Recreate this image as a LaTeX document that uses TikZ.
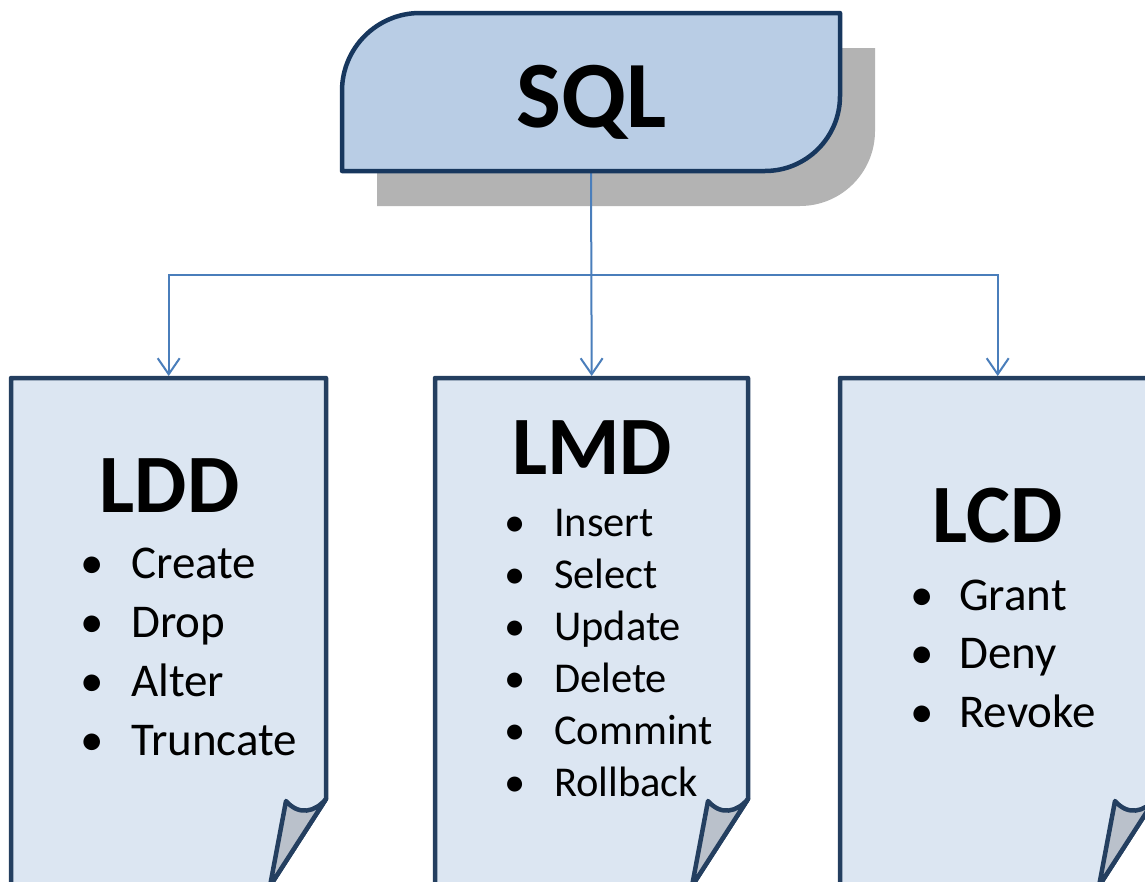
\documentclass[tikz,border=0pt]{standalone}
\usepackage{fontspec}
\setmainfont{Carlito}
\usetikzlibrary{arrows.meta}

\definecolor{boxline}{HTML}{17375E}
\definecolor{pageline}{HTML}{243F60}
\definecolor{boxfill}{HTML}{B9CDE5}
\definecolor{pagefill}{HTML}{DCE6F2}
\definecolor{foldfill}{HTML}{BAC1CB}
\definecolor{shadowgrey}{HTML}{B3B3B3}
\definecolor{linkblue}{HTML}{4A7EBB}

\newcommand\bul[1]{\makebox[#1][l]{\textbullet}}

\tikzset{
  outline/.style={draw=#1, line width=4.5pt, line join=round},
  conn/.style={draw=linkblue, line width=2pt, -{Straight Barb[length=16pt,width=22pt]}},
  anchorbox/.style={inner sep=0pt, minimum width=#1, minimum height=505pt, anchor=north west},
  heading/.style={anchor=base, inner sep=0pt, font=\fontsize{83pt}{83pt}\selectfont\bfseries},
  bigtitle/.style={anchor=base, inner sep=0pt, font=\fontsize{95pt}{95pt}\selectfont\bfseries},
  entry/.style={anchor=base west, inner sep=0pt, font=\fontsize{#1}{#1}\selectfont},
  docpage/.pic={
    \fill[pagefill] (0,530) -- (0,0) -- (#1,0) -- (#1,421) -- (#1-56,508) -- (#1-56,530) -- cycle;
    \draw[outline=pageline] (0,530) -- (0,0) -- (#1,0) -- (#1,421) -- (#1-56,508);
    \filldraw[fill=foldfill, outline=pageline] (#1,421) .. controls (#1-11,434) and (#1-27,438) .. (#1-40,423) -- (#1-56,508) -- cycle;
  }
}

\begin{document}
\begin{tikzpicture}[x=1pt,y=-1pt]
\useasboundingbox (0,0) rectangle (1145,881);
\clip (0,0) rectangle (1145,881);

% anchor nodes for the title box and the three pages
\node[inner sep=0pt, minimum width=498pt, minimum height=158pt] (sql) at (591,92) {};
\node[anchorbox=315pt] (ldd) at (11,376) {};
\node[anchorbox=313pt] (lmd) at (435,376) {};
\node[anchorbox=315pt] (lcd) at (840,376) {};
\coordinate (bus) at (591,275);

% drop shadow of the title box
\fill[shadowgrey, shift={(35,35)}] (342,171) -- (342,91) .. controls (342,47.9) and (376.9,13) .. (420,13)
  -- (840,13) -- (840,96) .. controls (840,137.4) and (806.4,171) .. (765,171) -- cycle;

% connectors
\draw[conn] (sql.south) -- (lmd.north);
\draw[conn] (bus) -| (ldd.north);
\draw[conn] (bus) -| (lcd.north);

% title box
\filldraw[fill=boxfill, outline=boxline] (342,171) -- (342,91) .. controls (342,47.9) and (376.9,13) .. (420,13)
  -- (840,13) -- (840,96) .. controls (840,137.4) and (806.4,171) .. (765,171) -- cycle;
\node[bigtitle] (sqltext) at (592,127) {SQL};

% pages
\pic at (11,378) {docpage=315};
\pic at (435,378) {docpage=313};
\pic at (840,378) {docpage=315};

% LDD
\node[heading] (lddtitle) at (169.5,512) {LDD};
\node[entry=47pt] (ldd1) at (80,578) {\bul{51pt}Create};
\node[entry=47pt] (ldd2) at (80,637) {\bul{51pt}Drop};
\node[entry=47pt] (ldd3) at (80,696) {\bul{51pt}Alter};
\node[entry=47pt] (ldd4) at (80,755) {\bul{51pt}Truncate};

% LMD
\node[heading] (lmdtitle) at (592,474) {LMD};
\node[entry=42.5pt] (lmd1) at (504,536) {\bul{50pt}Insert};
\node[entry=42.5pt] (lmd2) at (504,588) {\bul{50pt}Select};
\node[entry=42.5pt] (lmd3) at (504,640) {\bul{50pt}Update};
\node[entry=42.5pt] (lmd4) at (504,692) {\bul{50pt}Delete};
\node[entry=42.5pt] (lmd5) at (504,744) {\bul{50pt}Commint};
\node[entry=42.5pt] (lmd6) at (504,796) {\bul{50pt}Rollback};

% LCD
\node[heading] (lcdtitle) at (997.5,542) {LCD};
\node[entry=47pt] (lcd1) at (910,610) {\bul{49pt}Grant};
\node[entry=47pt] (lcd2) at (910,668) {\bul{49pt}Deny};
\node[entry=47pt] (lcd3) at (910,727) {\bul{49pt}Revoke};
\end{tikzpicture}
\end{document}
